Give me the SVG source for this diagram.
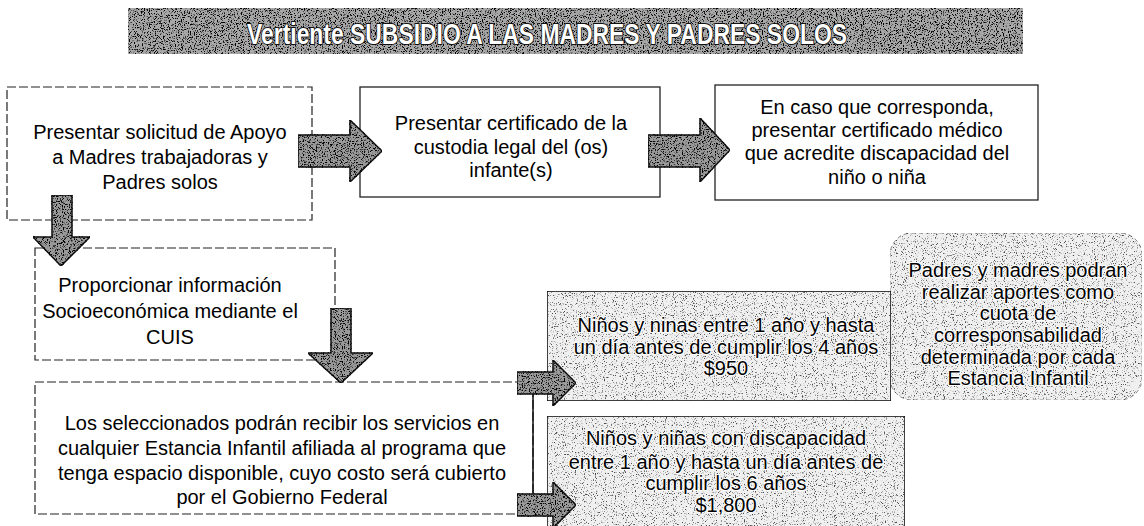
<svg xmlns="http://www.w3.org/2000/svg" width="1144" height="526" viewBox="0 0 1144 526">
<defs>
<filter id="texD" x="0" y="0" width="1" height="1" color-interpolation-filters="sRGB">
<feTurbulence type="fractalNoise" baseFrequency="0.85" numOctaves="2" seed="4" result="n"/>
<feColorMatrix in="n" type="matrix" values="0 0 0 0 0  0 0 0 0 0  0 0 0 0 0  -7 0 0 0 3.3" result="blk"/>
<feComposite in="blk" in2="SourceAlpha" operator="in" result="blk2"/>
<feMerge><feMergeNode in="SourceGraphic"/><feMergeNode in="blk2"/></feMerge>
</filter>
<filter id="texL" x="0" y="0" width="1" height="1" color-interpolation-filters="sRGB">
<feTurbulence type="fractalNoise" baseFrequency="0.9" numOctaves="2" seed="9" result="n"/>
<feColorMatrix in="n" type="matrix" values="0 0 0 0 0.3  0 0 0 0 0.3  0 0 0 0 0.3  -6 0 0 0 2.5" result="blk"/>
<feComposite in="blk" in2="SourceAlpha" operator="in" result="blk2"/>
<feMerge><feMergeNode in="SourceGraphic"/><feMergeNode in="blk2"/></feMerge>
</filter>
<style>
.t{font-family:"Liberation Sans",Arial,sans-serif;font-size:20px;fill:#000;text-anchor:middle}
.th{font-family:"Liberation Sans",Arial,sans-serif;font-size:20px;fill:#000;text-anchor:middle;stroke:#fff;stroke-width:2px;paint-order:stroke;stroke-linejoin:round}
.dash{fill:#fff;stroke:#222;stroke-width:1.2;stroke-dasharray:9 3}
.solid{fill:#fff;stroke:#222;stroke-width:1.3}
.light{fill:#f0f0f0;stroke:#111;stroke-width:1.6;filter:url(#texL)}
.arrow{fill:#9a9a9a;stroke:#111;stroke-width:1.5;stroke-linejoin:miter;filter:url(#texD)}
</style>
</defs>
<rect width="1144" height="526" fill="#fff"/>

<g id="title">
<rect x="128" y="8" width="895" height="46" fill="#a8a8a8" filter="url(#texD)"/>
<text x="547" y="44" font-family="'Liberation Sans',Arial,sans-serif" font-size="29" font-weight="bold" fill="#fff" stroke="#111" stroke-width="2" paint-order="stroke" text-anchor="middle" textLength="600" lengthAdjust="spacingAndGlyphs">Vertiente SUBSIDIO A LAS MADRES Y PADRES SOLOS</text>
</g>

<g id="box1">
<rect class="dash" x="7" y="87" width="305" height="133"/>
<text class="t" x="160" y="139">Presentar solicitud de Apoyo</text>
<text class="t" x="160" y="164">a Madres trabajadoras y</text>
<text class="t" x="160" y="189">Padres solos</text>
</g>

<g id="box2">
<rect class="solid" x="360" y="87" width="300" height="110"/>
<text class="t" x="511" y="130">Presentar certificado de la</text>
<text class="t" x="511" y="154">custodia legal del (os)</text>
<text class="t" x="511" y="177">infante(s)</text>
</g>

<g id="box3">
<rect class="solid" x="715" y="85" width="323" height="115"/>
<text class="t" x="877" y="114">En caso que corresponda,</text>
<text class="t" x="877" y="137">presentar certificado médico</text>
<text class="t" x="877" y="160">que acredite discapacidad del</text>
<text class="t" x="877" y="184">niño o niña</text>
</g>

<g id="box4">
<rect class="dash" x="35" y="248" width="300" height="112"/>
<text class="t" x="170" y="292">Proporcionar información</text>
<text class="t" x="170" y="318">Socioeconómica mediante el</text>
<text class="t" x="170" y="344">CUIS</text>
</g>

<g id="box5">
<rect class="dash" x="35" y="382" width="498" height="132"/>
<text class="t" x="282" y="430">Los seleccionados podrán recibir los servicios en</text>
<text class="t" x="282" y="455">cualquier Estancia Infantil afiliada al programa que</text>
<text class="t" x="282" y="480">tenga espacio disponible, cuyo costo será cubierto</text>
<text class="t" x="282" y="504">por el Gobierno Federal</text>
</g>

<g id="box-aportes">
<rect x="890" y="233" width="252" height="167" rx="22" fill="#f0f0f0" stroke="#888" stroke-width="1" stroke-dasharray="4 3" filter="url(#texL)"/>
<text class="th" x="1018" y="277">Padres y madres podran</text>
<text class="th" x="1018" y="299">realizar aportes como</text>
<text class="th" x="1018" y="320">cuota de</text>
<text class="th" x="1018" y="342">corresponsabilidad</text>
<text class="th" x="1018" y="364">determinada por cada</text>
<text class="th" x="1018" y="385">Estancia Infantil</text>
</g>

<g id="box6">
<rect class="light" x="547" y="291" width="344" height="110"/>
<text class="th" x="726" y="332">Niños y ninas entre 1 año y hasta</text>
<text class="th" x="726" y="354">un día antes de cumplir los 4 años</text>
<text class="th" x="726" y="375">$950</text>
</g>

<g id="box7">
<rect class="light" x="547" y="416" width="358" height="120"/>
<text class="th" x="726" y="445">Niños y niñas con discapacidad</text>
<text class="th" x="726" y="469">entre 1 año y hasta un día antes de</text>
<text class="th" x="726" y="490">cumplir los 6 años</text>
<text class="th" x="726" y="512">$1,800</text>
</g>

<g id="connectors">
<polygon class="arrow" points="298,135 350,135 350,120 382,151 350,182 350,167 298,167"/>
<polygon class="arrow" points="648,135 700,135 700,118 730,150 700,182 700,167 648,167"/>
<polygon class="arrow" points="52,195 72,195 72,237 90,237 61,266 33,237 52,237"/>
<polygon class="arrow" points="331,308 351,308 351,353 373,353 341,383 308,353 331,353"/>
<line x1="533" y1="394" x2="533" y2="494" stroke="#111" stroke-width="1.5"/>
<polygon class="arrow" points="517,372 553,372 553,360 576,383 553,406 553,394 517,394"/>
<polygon class="arrow" points="517,494 553,494 553,482 576,505 553,528 553,516 517,516"/>
</g>
</svg>
